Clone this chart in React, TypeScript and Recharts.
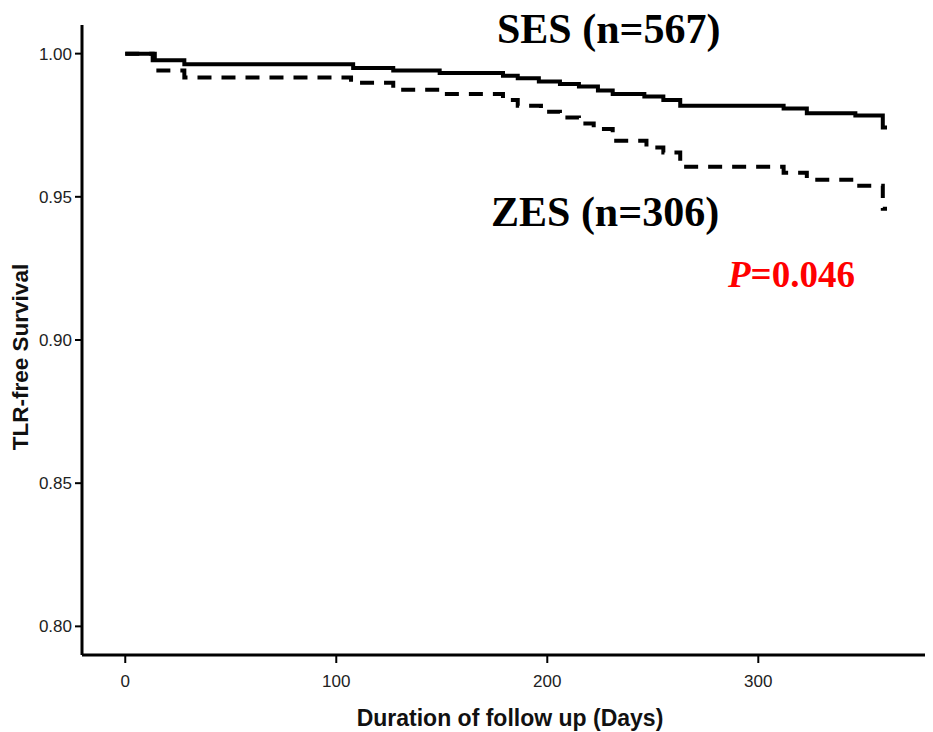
import { LineChart, Line, XAxis, YAxis } from 'recharts'

// Kaplan-Meier step points (day, survival)
const sesDays = [0, 13, 28, 108, 127, 149, 179, 186, 196, 206, 215, 224, 231, 246, 255, 263, 312, 323, 346, 359, 361]
const sesSurv = [1.0, 0.9977, 0.9963, 0.995, 0.9941, 0.9932, 0.9923, 0.9914, 0.9903, 0.9894, 0.9885, 0.9871, 0.9859, 0.985, 0.9838, 0.9818, 0.9808, 0.9792, 0.9784, 0.9742, 0.9742]

const zesDays = [0, 14, 28, 107, 127, 149, 179, 186, 197, 206, 215, 222, 231, 247, 255, 263, 312, 323, 346, 359, 361]
const zesSurv = [1.0, 0.9941, 0.9917, 0.9898, 0.9874, 0.9859, 0.9838, 0.9818, 0.9797, 0.9777, 0.9756, 0.9737, 0.9696, 0.9672, 0.9655, 0.9605, 0.9584, 0.956, 0.9539, 0.9458, 0.9458]

const xTicks = [0, 100, 200, 300]
const yTicks = [0.8, 0.85, 0.9, 0.95, 1.0]

const sesData = sesDays.map((d, i) => ({ day: d, surv: sesSurv[i] }))
const zesData = zesDays.map((d, i) => ({ day: d, surv: zesSurv[i] }))

const tickFont = { fill: '#222', fontSize: 17, fontFamily: "'Liberation Sans', Arial, sans-serif" }

export default function App() {
  return (
    <div style={{ position: 'absolute', left: 0, top: 0, width: 933, height: 732, background: '#fff' }}>
      <LineChart width={933} height={732} margin={{ top: 25, right: 8, bottom: 0, left: 0 }}>
        <XAxis
          type="number"
          dataKey="day"
          domain={[-20.5, 379]}
          ticks={xTicks}
          height={77}
          tick={tickFont}
          tickSize={8}
          tickMargin={12}
          axisLine={{ stroke: '#000', strokeWidth: 3 }}
          tickLine={{ stroke: '#000', strokeWidth: 2 }}
          allowDataOverflow
        />
        <YAxis
          type="number"
          domain={[0.79, 1.01]}
          ticks={yTicks}
          width={82}
          tickFormatter={(v: number) => v.toFixed(2)}
          tick={tickFont}
          tickSize={7}
          tickMargin={3}
          axisLine={{ stroke: '#000', strokeWidth: 3 }}
          tickLine={{ stroke: '#000', strokeWidth: 2 }}
          allowDataOverflow
        />
        <Line
          data={zesData}
          dataKey="surv"
          type="stepAfter"
          stroke="#000"
          strokeWidth={4}
          strokeDasharray="14 10"
          dot={false}
          isAnimationActive={false}
        />
        <Line
          data={sesData}
          dataKey="surv"
          type="stepAfter"
          stroke="#000"
          strokeWidth={4}
          dot={false}
          isAnimationActive={false}
        />
      </LineChart>

      <div style={{ position: 'absolute', left: 21, top: 357, transform: 'translate(-50%, -50%) rotate(-90deg)', whiteSpace: 'nowrap', fontFamily: "'Liberation Sans', Arial, sans-serif", fontWeight: 700, fontSize: 22.5, color: '#111' }}>
        TLR-free Survival
      </div>
      <div style={{ position: 'absolute', left: 510, top: 718, transform: 'translate(-50%, -50%)', whiteSpace: 'nowrap', fontFamily: "'Liberation Sans', Arial, sans-serif", fontWeight: 700, fontSize: 23, color: '#111' }}>
        Duration of follow up (Days)
      </div>

      <div style={{ position: 'absolute', left: 497, top: 5, whiteSpace: 'nowrap', fontFamily: "'Liberation Serif', 'Times New Roman', serif", fontWeight: 700, fontSize: 42, lineHeight: '48px', color: '#000' }}>
        SES (n=567)
      </div>
      <div style={{ position: 'absolute', left: 491, top: 188, whiteSpace: 'nowrap', fontFamily: "'Liberation Serif', 'Times New Roman', serif", fontWeight: 700, fontSize: 42, lineHeight: '48px', color: '#000' }}>
        ZES (n=306)
      </div>
      <div style={{ position: 'absolute', left: 728, top: 254, whiteSpace: 'nowrap', fontFamily: "'Liberation Serif', 'Times New Roman', serif", fontWeight: 700, fontSize: 37, lineHeight: '42px', color: '#ff0000' }}>
        <i>P</i>=0.046
      </div>
    </div>
  )
}
